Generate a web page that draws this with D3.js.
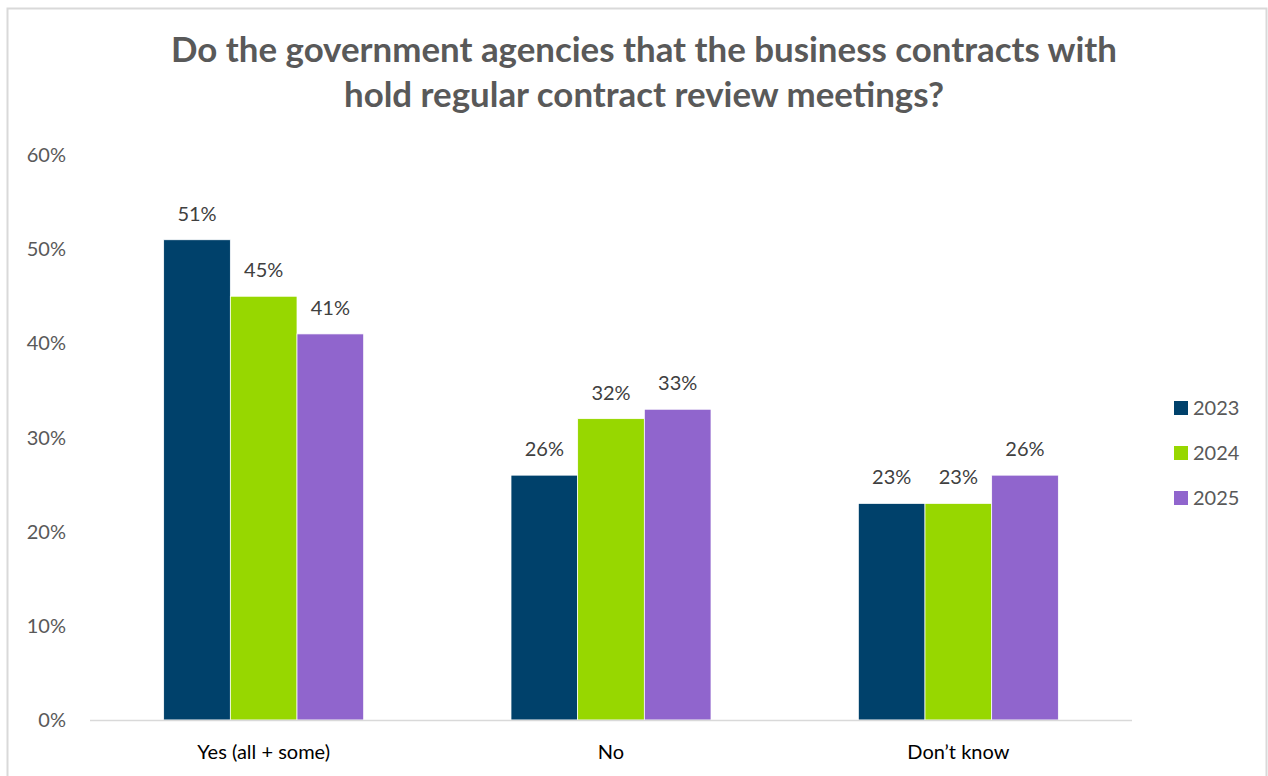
<!DOCTYPE html>
<html>
<head>
<meta charset="utf-8">
<script src="https://cdn.jsdelivr.net/npm/d3@7"></script>
<style>
  html, body { margin: 0; padding: 0; background: #ffffff; }
  svg { display: block; }
  text { font-family: Lato, "Open Sans", "DejaVu Sans", sans-serif; }
</style>
</head>
<body>
<svg id="chart" width="1268" height="776"></svg>
<script>
// Survey answers by year
const categories = ["Yes (all + some)", "No", "Don\u2019t know"];
const years = ["2023", "2024", "2025"];
const values2023 = [51, 26, 23];
const values2024 = [45, 32, 23];
const values2025 = [41, 33, 26];
const yTicks = [0, 10, 20, 30, 40, 50, 60];
const titleLines = [
  "Do the government agencies that the business contracts with",
  "hold regular contract review meetings?"
];

const seriesValues = [values2023, values2024, values2025];
const colors = ["#00416b", "#97d700", "#9065cd"];

const svg = d3.select("#chart");

// Outer chart frame
svg.append("path")
  .attr("d", "M7.5,790 V8.5 H1266.5 V790")
  .attr("fill", "none")
  .attr("stroke", "#d9d9d9")
  .attr("stroke-width", 2);

const plot = { left: 90, right: 1132, top: 155, bottom: 720 };

const x0 = d3.scaleBand().domain(categories).range([plot.left, plot.right]).padding(0);
const x1 = d3.scaleBand().domain(years).range([0, x0.bandwidth()]).paddingInner(0).paddingOuter(1.105);
const y = d3.scaleLinear().domain([0, 60]).range([plot.bottom, plot.top]);

// Title
const title = svg.append("g");
titleLines.forEach((line, i) => {
  title.append("text")
    .attr("x", 644)
    .attr("y", 62 + i * 45)
    .attr("text-anchor", "middle")
    .attr("font-size", 32)
    .attr("font-weight", "bold")
    .attr("fill", "#595959")
    .text(line);
});
// scale title so the first line spans its intended width
const firstW = title.select("text").node().getComputedTextLength();
const fs = 32 * 946 / firstW;
title.selectAll("text").attr("font-size", fs);

// Y axis labels (no axis line)
svg.append("g").selectAll("text")
  .data(yTicks)
  .join("text")
  .attr("x", 66)
  .attr("y", d => y(d))
  .attr("dy", "0.35em")
  .attr("text-anchor", "end")
  .attr("font-size", 20)
  .attr("fill", "#595959")
  .text(d => d + "%");

// Bars
const groups = svg.append("g").selectAll("g")
  .data(categories)
  .join("g")
  .attr("transform", d => `translate(${x0(d)},0)`);

groups.selectAll("rect")
  .data((c, ci) => years.map((yr, si) => ({ yr, si, v: seriesValues[si][ci] })))
  .join("rect")
  .attr("x", d => x1(d.yr))
  .attr("y", d => y(d.v))
  .attr("width", x1.bandwidth())
  .attr("height", d => y(0) - y(d.v))
  .attr("fill", d => colors[d.si])
  .attr("stroke", "#ffffff")
  .attr("stroke-width", 0.75);

// Data labels
groups.selectAll("text")
  .data((c, ci) => years.map((yr, si) => ({ yr, si, v: seriesValues[si][ci] })))
  .join("text")
  .attr("x", d => x1(d.yr) + x1.bandwidth() / 2)
  .attr("y", d => y(d.v) - 19)
  .attr("text-anchor", "middle")
  .attr("font-size", 20)
  .attr("fill", "#404040")
  .text(d => d.v + "%");

// Baseline
svg.append("line")
  .attr("x1", plot.left).attr("x2", plot.right)
  .attr("y1", y(0) + 0.5).attr("y2", y(0) + 0.5)
  .attr("stroke", "#d9d9d9")
  .attr("stroke-width", 1.5);

// Category labels
const xAxis = d3.axisBottom(x0).tickSize(0).tickPadding(0);
const xg = svg.append("g").attr("transform", `translate(0,${plot.bottom})`).call(xAxis);
xg.select(".domain").remove();
xg.selectAll("text")
  .attr("y", 32)
  .attr("dy", "0.35em")
  .attr("font-size", 20)
  .attr("font-family", "Lato, 'Open Sans', sans-serif")
  .attr("fill", "#000000");

// Legend
const legend = svg.append("g").selectAll("g")
  .data(years)
  .join("g")
  .attr("transform", (d, i) => `translate(1174,${408 + i * 45})`);
legend.append("rect")
  .attr("x", 0).attr("y", -7)
  .attr("width", 14).attr("height", 14)
  .attr("fill", (d, i) => colors[i]);
legend.append("text")
  .attr("x", 19)
  .attr("y", 0)
  .attr("dy", "0.35em")
  .attr("font-size", 20)
  .attr("fill", "#595959")
  .text(d => d);
</script>
</body>
</html>
